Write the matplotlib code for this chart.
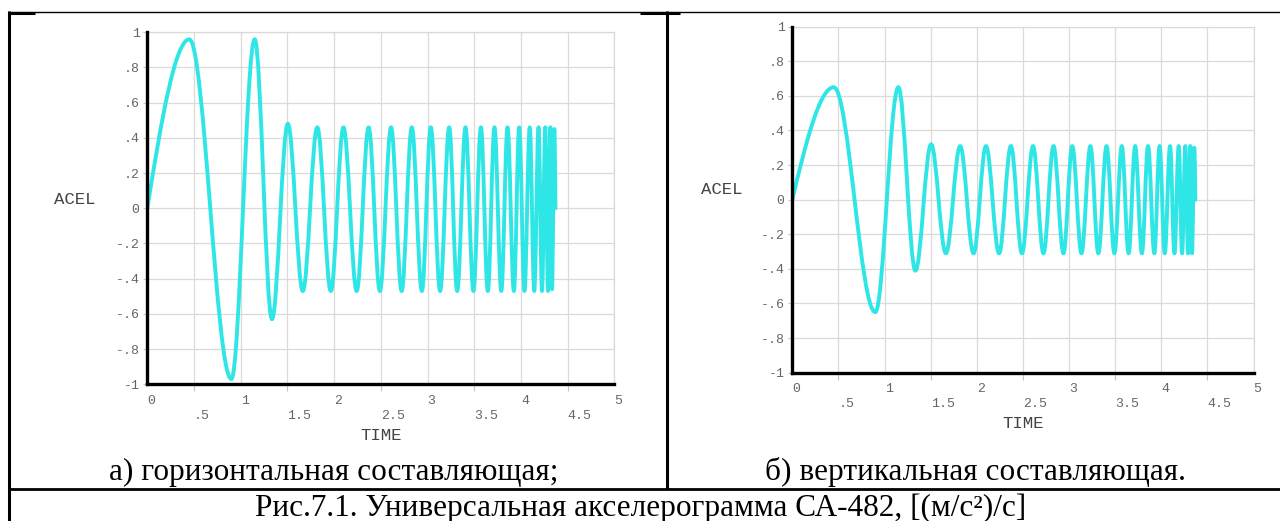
import matplotlib
matplotlib.use("Agg")
import matplotlib.pyplot as plt
from matplotlib.path import Path
from matplotlib.patches import PathPatch
from matplotlib.lines import Line2D
import numpy as np

# turning points of the accelerogram (time, s)
peak_time = [0.0, 0.45, 0.90, 1.15, 1.335, 1.505, 1.665, 1.82, 1.965, 2.10,
             2.242, 2.37, 2.49, 2.61, 2.723, 2.832, 2.94, 3.035, 3.135, 3.232,
             3.318, 3.407, 3.492, 3.572, 3.646, 3.717, 3.79, 3.857, 3.925, 3.982,
             4.038, 4.095, 4.143, 4.189, 4.226, 4.261, 4.29, 4.315, 4.333, 4.358,
             4.37]
# horizontal component at the turning points
acel_horiz = [0.0, 0.96, -0.97, 0.96, -0.63, 0.48, -0.47, 0.46, -0.47, 0.46,
              -0.47, 0.46, -0.47, 0.46, -0.47, 0.46, -0.47, 0.46, -0.47, 0.46,
              -0.47, 0.46, -0.47, 0.46, -0.47, 0.46, -0.47, 0.46, -0.47, 0.46,
              -0.47, 0.46, -0.47, 0.46, -0.47, 0.46, -0.47, 0.46, -0.46, 0.45,
              0.0]
# vertical component at the turning points
acel_vert = [0.0, 0.65, -0.65, 0.65, -0.41, 0.32, -0.31, 0.31, -0.31, 0.31,
             -0.31, 0.31, -0.31, 0.31, -0.31, 0.31, -0.31, 0.31, -0.31, 0.31,
             -0.31, 0.31, -0.31, 0.31, -0.31, 0.31, -0.31, 0.31, -0.31, 0.31,
             -0.31, 0.31, -0.31, 0.31, -0.31, 0.31, -0.31, 0.31, -0.31, 0.30,
             0.0]

x_major = [0, 1, 2, 3, 4, 5]
x_major_labels = ["0", "1", "2", "3", "4", "5"]
x_minor = [0.5, 1.5, 2.5, 3.5, 4.5]
x_minor_labels = [".5", "1.5", "2.5", "3.5", "4.5"]
y_ticks = [-1, -0.8, -0.6, -0.4, -0.2, 0, 0.2, 0.4, 0.6, 0.8, 1]
y_labels = ["-1", "-.8", "-.6", "-.4", "-.2", "0", ".2", ".4", ".6", ".8", "1"]

captions = ["а) горизонтальная составляющая;", "б) вертикальная составляющая."]
fig_caption = "Рис.7.1. Универсальная акселерограмма СА-482, [(м/с²)/с]"

W, H = 1280, 521
LINE = "#2ee6e6"
GRID = "#dadada"
MONO = "Liberation Mono"
SERIF = "Liberation Serif"


def fx(x):
    return x / W


def fy(y):
    return 1 - y / H


def wave_path(t, v):
    # smooth arcs between successive turning points
    verts = [(t[0], v[0])]
    codes = [Path.MOVETO]
    k = 0.3634
    n = len(t)
    for i in range(1, n):
        t0, v0, t1, v1 = t[i - 1], v[i - 1], t[i], v[i]
        h = t1 - t0
        if i == 1:
            c1 = (t0 + h / 3, v0 + (v1 - v0) * np.pi / 6)
            c2 = (t0 + 2 * h / 3, v1)
        elif i == n - 1:
            c1 = (t0 + h / 3, v0)
            c2 = (t0 + 2 * h / 3, v1 + (v0 - v1) * np.pi / 6)
        else:
            c1 = (t0 + k * h, v0)
            c2 = (t1 - k * h, v1)
        verts += [c1, c2, (t1, v1)]
        codes += [Path.CURVE4] * 3
    return Path(verts, codes)


def draw_panel(box, values, acel_xy, time_xy):
    left, top, right, bottom = box
    ax = fig.add_axes([fx(left), fy(bottom), fx(right - left), (bottom - top) / H])
    ax.set_xlim(0, 5)
    ax.set_ylim(-1, 1)
    ax.set_facecolor("white")

    ax.set_xticks(x_major)
    ax.set_xticklabels(x_major_labels)
    ax.set_xticks(x_minor, minor=True)
    ax.set_xticklabels(x_minor_labels, minor=True)
    ax.set_yticks(y_ticks)
    ax.set_yticklabels(y_labels)

    ax.grid(which="both", color=GRID, linewidth=0.9)
    ax.set_axisbelow(True)

    ax.tick_params(axis="x", which="major", length=0, pad=7.5)
    ax.tick_params(axis="x", which="minor", length=5, width=0.8, color="#c4c4c4", pad=13.5)
    ax.tick_params(axis="y", length=3, width=0.8, color="#c4c4c4", pad=2.5)
    for lbl in ax.get_xticklabels(which="both"):
        lbl.set_horizontalalignment("left")
        lbl.set_fontfamily(MONO)
        lbl.set_fontsize(9.5)
        lbl.set_color("#666666")
    for lbl in ax.get_yticklabels():
        lbl.set_fontfamily(MONO)
        lbl.set_fontsize(9.5)
        lbl.set_color("#666666")

    for side in ("left", "bottom"):
        ax.spines[side].set_color("black")
        ax.spines[side].set_linewidth(2.4)
        ax.spines[side].set_zorder(4)
    for side in ("top", "right"):
        ax.spines[side].set_color(GRID)
        ax.spines[side].set_linewidth(0.9)

    ax.add_patch(PathPatch(wave_path(peak_time, values), fill=False, edgecolor=LINE,
                           linewidth=2.8, joinstyle="round", capstyle="round", zorder=3))

    fig.text(fx(acel_xy[0]), fy(acel_xy[1]), "ACEL", family=MONO, fontsize=12.5,
             color="#444444", ha="center", va="center")
    fig.text(fx(time_xy[0]), fy(time_xy[1]), "TIME", family=MONO, fontsize=12.5,
             color="#444444", ha="center", va="center")
    return ax


fig = plt.figure(figsize=(W / 100, H / 100), dpi=100)
fig.patch.set_facecolor("white")

draw_panel((147.3, 32.3, 614.3, 384.3), acel_horiz, (75, 200), (381, 435))
draw_panel((792.3, 26.7, 1253.5, 372.7), acel_vert, (722, 190), (1023, 423))


# table frame
def rule(x0, y0, x1, y1, lw):
    fig.add_artist(Line2D([fx(x0), fx(x1)], [fy(y0), fy(y1)], color="black",
                          linewidth=lw, transform=fig.transFigure, solid_capstyle="butt"))


rule(8, 11.5, 1280, 11.5, 1.0)
rule(8, 12.5, 35, 12.5, 2.2)
rule(640, 12.5, 680, 12.5, 2.2)
rule(9, 11, 9, 521, 2.2)
rule(667, 11, 667, 489, 2.2)
rule(8, 488.5, 1280, 488.5, 2.0)

fig.text(fx(334), fy(480), captions[0], family=SERIF, fontsize=22.5,
         ha="center", va="baseline", color="black")
fig.text(fx(975), fy(480), captions[1], family=SERIF, fontsize=22.5,
         ha="center", va="baseline", color="black")
fig.text(fx(641), fy(516), fig_caption, family=SERIF, fontsize=22.5,
         ha="center", va="baseline", color="black")

fig.savefig("out.png", dpi=100, facecolor="white")
